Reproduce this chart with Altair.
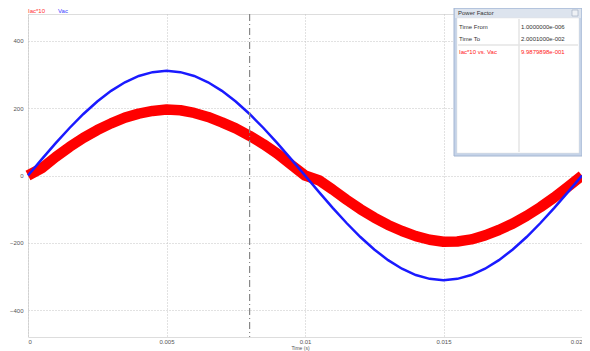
import altair as alt
import pandas as pd

# ---- data ----
time_s = [0, 0.0005, 0.001, 0.0015, 0.002, 0.0025, 0.003, 0.0035, 0.004, 0.0045,
          0.005, 0.0055, 0.006, 0.0065, 0.007, 0.0075, 0.008, 0.0085, 0.009, 0.0095,
          0.01, 0.0105, 0.011, 0.0115, 0.012, 0.0125, 0.013, 0.0135, 0.014, 0.0145,
          0.015, 0.0155, 0.016, 0.0165, 0.017, 0.0175, 0.018, 0.0185, 0.019, 0.0195, 0.02]
vac = [0, 48.6, 96.1, 141.2, 182.8, 219.9, 251.6, 277.1, 295.8, 307.2,
       311, 307.2, 295.8, 277.1, 251.6, 219.9, 182.8, 141.2, 96.1, 48.6,
       0, -48.6, -96.1, -141.2, -182.8, -219.9, -251.6, -277.1, -295.8, -307.2,
       -311, -307.2, -295.8, -277.1, -251.6, -219.9, -182.8, -141.2, -96.1, -48.6, 0]
iac10 = [0, 22, 55, 85, 112, 135, 155, 172, 184, 192,
         196, 194, 186, 174, 158, 140, 118, 93, 65, 32,
         0, -14, -42, -72, -100, -125, -147, -165, -180, -191,
         -197, -196, -190, -178, -162, -143, -120, -94, -65, -33, 0]
cursor_t = [0.008]
x_ticks = [0, 0.005, 0.01, 0.015, 0.02]
y_ticks = [-400, -200, 0, 200, 400]
pf_rows = [("Time   From", "1.0000000e-006"), ("Time   To", "2.0001000e-002"),
           ("Iac*10 vs. Vac", "9.9879898e-001")]

df = pd.DataFrame({"t": time_s, "Vac": vac, "Iac10": iac10})

W, H = 554, 323
FONT = "Liberation Sans"
xs = alt.Scale(domain=[0, 0.02], nice=False)
ys = alt.Scale(domain=[-480, 480], nice=False)
grid = dict(grid=True, gridColor="#c4c4c4", gridDash=[1, 2], gridWidth=1,
            ticks=False, domain=False, labelFontSize=6, labelColor="#555555",
            labelFont=FONT)

base = alt.Chart(df)
red = base.mark_line(color="#ff0000", strokeWidth=10.5, strokeJoin="round").encode(
    x=alt.X("t:Q", scale=xs, title="Time (s)",
            axis=alt.Axis(values=x_ticks, format="~g", labelPadding=1,
                          titleFontSize=5, titleFontWeight="normal", titleFont=FONT,
                          titleColor="#555555", titleY=13.5, titleX=272,
                          titleBaseline="bottom", **grid)),
    y=alt.Y("Iac10:Q", scale=ys, title=None,
            axis=alt.Axis(values=y_ticks, labelPadding=5, **grid)),
)
blue = base.mark_line(color="#1a1aff", strokeWidth=2.5).encode(
    x=alt.X("t:Q", scale=xs), y=alt.Y("Vac:Q", scale=ys))

cursor = alt.Chart(pd.DataFrame({"c": cursor_t})).mark_rule(
    color="#888888", strokeWidth=1.2, strokeDash=[7, 3, 1, 3]).encode(
    x=alt.X("c:Q", scale=xs))

one = pd.DataFrame({"a": [0]})
legend = [
    alt.Chart(one).mark_text(text="Iac*10", color="#ff3030", fontSize=6,
                             font=FONT, align="left", baseline="middle")
    .encode(x=alt.value(0), y=alt.value(-3)),
    alt.Chart(one).mark_text(text="Vac", color="#4040ff", fontSize=6,
                             font=FONT, align="left", baseline="middle")
    .encode(x=alt.value(30), y=alt.value(-3)),
]

# Power Factor window
bx0, bx1, by0, by1 = 426, 554, -6, 142
div_x = 491
box = [
    alt.Chart(one).mark_rect(fill="#c5d3e8", stroke="#a4b6d2", strokeWidth=1)
    .encode(x=alt.value(bx0), x2=alt.value(bx1), y=alt.value(by0), y2=alt.value(by1)),
    alt.Chart(one).mark_rect(fill="#dde4ee")
    .encode(x=alt.value(bx0 + 1), x2=alt.value(bx1 - 1), y=alt.value(by0 + 1), y2=alt.value(4)),
    alt.Chart(one).mark_rect(fill="#ffffff", stroke="#e0e0e0", strokeWidth=0.5)
    .encode(x=alt.value(bx0 + 3), x2=alt.value(bx1 - 3), y=alt.value(4), y2=alt.value(by1 - 3)),
    alt.Chart(one).mark_rect(fill="#eef1f5", stroke="#9aa8bc", strokeWidth=0.6)
    .encode(x=alt.value(bx1 - 10), x2=alt.value(bx1 - 4), y=alt.value(-4), y2=alt.value(2)),
    alt.Chart(one).mark_rule(color="#e4e4e4", strokeWidth=1.5)
    .encode(x=alt.value(div_x), y=alt.value(5), y2=alt.value(by1 - 4)),
    alt.Chart(one).mark_rule(color="#e4e4e4", strokeWidth=1.5)
    .encode(x=alt.value(bx0 + 4), x2=alt.value(bx1 - 4), y=alt.value(31)),
    alt.Chart(one).mark_text(text="Power Factor", color="#333333", fontSize=6,
                             font=FONT, align="left", baseline="middle")
    .encode(x=alt.value(bx0 + 4), y=alt.value(-1)),
]
row_y = [13, 25, 38]
for i, (lab, val) in enumerate(pf_rows):
    col = "#ff2020" if i == 2 else "#333333"
    box.append(alt.Chart(one).mark_text(text=lab, color=col, fontSize=6,
                                        font=FONT, align="left", baseline="middle")
               .encode(x=alt.value(bx0 + 5), y=alt.value(row_y[i])))
    box.append(alt.Chart(one).mark_text(text=val, color=col, fontSize=6,
                                        font=FONT, align="left", baseline="middle")
               .encode(x=alt.value(div_x + 2), y=alt.value(row_y[i])))

chart = alt.layer(red, blue, cursor, *legend, *box).properties(
    width=W, height=H,
    autosize=alt.AutoSizeParams(type="none"),
    padding={"left": 20, "top": 6, "right": 0, "bottom": 14},
).configure_view(stroke="#a8a8a8", strokeWidth=2).configure(background="white")

chart.save("out.html", embed_options={"renderer": "svg", "actions": False})
